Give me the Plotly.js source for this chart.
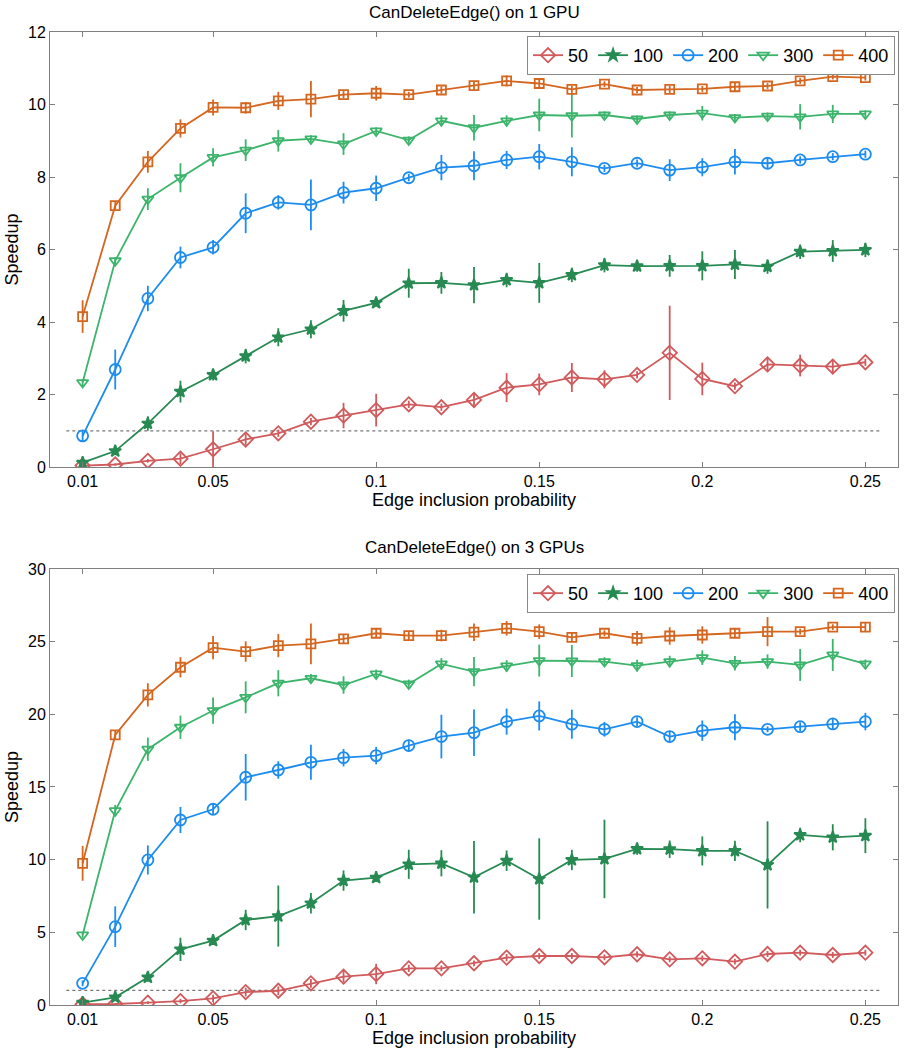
<!DOCTYPE html>
<html>
<head>
<meta charset="utf-8">
<script src="https://cdn.plot.ly/plotly-3.0.1.min.js"></script>
<style>html,body{margin:0;padding:0;background:#fff;}#chart{width:904px;height:1050px;}</style>
</head>
<body>
<div id="chart"></div>
<script>
// ---------- data ----------
const prob = [0.01,0.02,0.03,0.04,0.05,0.06,0.07,0.08,0.09,0.10,0.11,0.12,0.13,0.14,0.15,0.16,0.17,0.18,0.19,0.20,0.21,0.22,0.23,0.24,0.25];
const seriesNames = ['50','100','200','300','400'];

// 1 GPU
const gpu1_50  = [0.04,0.07,0.17,0.23,0.49,0.76,0.93,1.25,1.42,1.57,1.73,1.65,1.85,2.19,2.28,2.47,2.42,2.54,3.15,2.43,2.23,2.83,2.80,2.77,2.89];
const gpu1_50e = [0.03,0.03,0.05,0.15,0.50,0.15,0.10,0.10,0.35,0.45,0.10,0.10,0.20,0.40,0.30,0.40,0.25,0.10,1.30,0.45,0.10,0.20,0.30,0.20,0.10];
const gpu1_100  = [0.12,0.44,1.20,2.08,2.54,3.06,3.58,3.80,4.31,4.53,5.07,5.08,5.02,5.16,5.08,5.30,5.57,5.54,5.55,5.55,5.59,5.53,5.94,5.96,5.99];
const gpu1_100e = [0.05,0.08,0.20,0.30,0.15,0.20,0.25,0.25,0.30,0.10,0.40,0.30,0.50,0.20,0.55,0.20,0.20,0.15,0.30,0.40,0.40,0.20,0.20,0.30,0.20];
const gpu1_200  = [0.86,2.69,4.65,5.78,6.06,7.00,7.30,7.23,7.57,7.69,7.98,8.26,8.31,8.47,8.56,8.42,8.24,8.38,8.19,8.27,8.42,8.38,8.47,8.56,8.63];
const gpu1_200e = [0.15,0.55,0.35,0.30,0.20,0.55,0.20,0.70,0.30,0.35,0.10,0.35,0.40,0.25,0.35,0.40,0.10,0.10,0.30,0.25,0.35,0.15,0.10,0.10,0.10];
const gpu1_300  = [2.33,5.69,7.39,7.98,8.54,8.74,9.00,9.05,8.91,9.27,9.02,9.55,9.36,9.55,9.71,9.69,9.71,9.60,9.71,9.76,9.64,9.68,9.66,9.74,9.74];
const gpu1_300e = [0.10,0.10,0.30,0.40,0.25,0.30,0.30,0.10,0.30,0.10,0.10,0.15,0.35,0.15,0.45,0.60,0.10,0.10,0.10,0.20,0.10,0.10,0.35,0.25,0.10];
const gpu1_400  = [4.15,7.21,8.42,9.34,9.92,9.91,10.10,10.15,10.27,10.31,10.27,10.40,10.52,10.65,10.58,10.42,10.56,10.40,10.42,10.43,10.49,10.51,10.65,10.77,10.74];
const gpu1_400e = [0.45,0.10,0.30,0.25,0.22,0.16,0.25,0.50,0.10,0.20,0.08,0.10,0.12,0.15,0.10,0.10,0.08,0.08,0.10,0.08,0.12,0.08,0.08,0.08,0.08];

// 3 GPUs
const gpu3_50  = [0.05,0.07,0.16,0.27,0.46,0.89,0.98,1.49,1.95,2.13,2.52,2.52,2.87,3.26,3.37,3.37,3.28,3.49,3.14,3.21,2.98,3.51,3.60,3.44,3.60];
const gpu3_50e = [0.05,0.05,0.10,0.15,0.25,0.30,0.30,0.30,0.40,0.70,0.25,0.20,0.20,0.25,0.20,0.20,0.20,0.20,0.20,0.20,0.20,0.20,0.20,0.20,0.20];
const gpu3_100  = [0.16,0.53,1.90,3.83,4.43,5.85,6.12,7.00,8.56,8.76,9.68,9.75,8.79,9.93,8.67,9.98,10.05,10.74,10.72,10.60,10.60,9.64,11.70,11.54,11.65];
const gpu3_100e = [0.10,0.15,0.30,0.80,0.30,0.70,2.10,0.70,0.70,0.30,1.00,0.90,2.50,0.70,2.80,0.70,2.70,0.40,0.60,1.00,0.70,3.00,0.50,0.90,1.20];
const gpu3_200  = [1.49,5.39,9.98,12.73,13.47,15.67,16.17,16.70,17.02,17.16,17.85,18.47,18.74,19.50,19.89,19.32,18.97,19.50,18.47,18.88,19.11,18.97,19.15,19.34,19.50];
const gpu3_200e = [0.20,1.40,1.00,0.90,0.40,1.60,0.60,1.20,0.60,0.60,0.40,1.50,1.60,0.90,1.00,1.00,0.50,0.30,0.40,0.70,0.90,0.20,0.30,0.40,0.60];
const gpu3_300  = [4.82,13.37,17.60,19.11,20.26,21.17,22.14,22.48,22.02,22.78,22.09,23.47,22.94,23.33,23.70,23.67,23.63,23.35,23.63,23.90,23.51,23.63,23.40,24.09,23.47];
const gpu3_300e = [0.20,0.40,0.80,0.80,0.90,1.10,0.90,0.30,0.60,0.30,0.30,0.40,1.00,0.40,1.10,1.10,0.30,0.40,0.40,0.50,0.50,0.50,1.10,1.10,0.30];
const gpu3_400  = [9.75,18.58,21.34,23.24,24.59,24.32,24.73,24.85,25.19,25.58,25.42,25.42,25.65,25.92,25.69,25.30,25.58,25.23,25.39,25.46,25.58,25.69,25.69,26.00,26.00];
const gpu3_400e = [1.20,0.30,0.80,0.70,0.80,0.70,0.80,1.40,0.30,0.30,0.30,0.40,0.60,0.50,0.50,0.30,0.20,0.50,0.60,0.60,0.30,1.00,0.20,0.20,0.30];

const refLineX = [0.005, 0.255];
const refLineY = [1, 1];

const xTicks = [0.01, 0.05, 0.1, 0.15, 0.2, 0.25];
const xTickText = ['0.01','0.05','0.1','0.15','0.2','0.25'];
const yTicks1 = [0,2,4,6,8,10,12];
const yTicks3 = [0,5,10,15,20,25,30];

// ---------- styles ----------
const colors  = ['#d05a5c','#278a52','#1c8cf0','#3db46c','#d5661f'];
const symbols = ['diamond-open','star','circle-open','triangle-down-open','square-open'];
const msizes  = [11,9,11,10,9];

const gpu1 = [[gpu1_50,gpu1_50e],[gpu1_100,gpu1_100e],[gpu1_200,gpu1_200e],[gpu1_300,gpu1_300e],[gpu1_400,gpu1_400e]];
const gpu3 = [[gpu3_50,gpu3_50e],[gpu3_100,gpu3_100e],[gpu3_200,gpu3_200e],[gpu3_300,gpu3_300e],[gpu3_400,gpu3_400e]];

const traces = [];
function addRef(xa, ya) {
  traces.push({x: refLineX, y: refLineY, xaxis: xa, yaxis: ya, mode: 'lines',
    line: {color: '#777777', width: 1.3, dash: 'dot'}, showlegend: false, hoverinfo: 'skip'});
}
addRef('x','y');
addRef('x2','y2');
function addSet(set, xa, ya, leg) {
  set.forEach((s, i) => {
    traces.push({
      x: prob, y: s[0], xaxis: xa, yaxis: ya, legend: leg,
      name: seriesNames[i], mode: 'lines+markers',
      line: {color: colors[i], width: 1.8},
      marker: {symbol: symbols[i], size: msizes[i], color: colors[i], line: {color: colors[i], width: 1.8}},
      error_y: {type: 'data', array: s[1], visible: true, color: colors[i], thickness: 1.8, width: 0}
    });
  });
}
addSet(gpu1, 'x', 'y', 'legend');
addSet(gpu3, 'x2', 'y2', 'legend2');

const fam = 'Liberation Sans, Arial, sans-serif';
const font = {family: fam, size: 16, color: '#000'};
const titleFont = {family: fam, size: 18, color: '#000'};
function xAxis(anchor) {
  return {anchor: anchor, domain: [0,1], range: [0, 0.26], tickvals: xTicks, ticktext: xTickText,
    ticks: 'inside', ticklen: 5, tickcolor: '#7f7f7f', showline: true, linecolor: '#7f7f7f', linewidth: 1,
    mirror: 'ticks', showgrid: false, zeroline: false, tickfont: font,
    title: {text: 'Edge inclusion probability', font: titleFont, standoff: 4}};
}
function yAxis(anchor, dom, rng, tv) {
  return {anchor: anchor, domain: dom, range: rng, tickvals: tv,
    ticks: 'inside', ticklen: 5, tickcolor: '#7f7f7f', showline: true, linecolor: '#7f7f7f', linewidth: 1,
    mirror: 'ticks', showgrid: false, zeroline: false, tickfont: font,
    title: {text: 'Speedup', font: titleFont, standoff: 4}};
}
const legStyle = {orientation: 'h', xanchor: 'right', yanchor: 'top', bgcolor: '#fff',
  bordercolor: '#8a8a8a', borderwidth: 1, font: {family: fam, size: 18, color: '#000'}, itemwidth: 30, tracegroupgap: 0};

const layout = {
  width: 904, height: 1050,
  margin: {l: 50, r: 6, t: 32, b: 45},
  paper_bgcolor: '#fff', plot_bgcolor: '#fff',
  font: font,
  xaxis: xAxis('y'),
  yaxis: yAxis('x', [0.5529, 1], [0, 12], yTicks1),
  xaxis2: xAxis('y2'),
  yaxis2: yAxis('x2', [0, 0.4481], [0, 30], yTicks3),
  legend: Object.assign({x: 0.9965, y: 0.9959}, legStyle),
  legend2: Object.assign({x: 0.9965, y: 0.443}, legStyle),
  annotations: [
    {text: 'CanDeleteEdge() on 1 GPU', xref: 'paper', yref: 'paper', x: 0.5, y: 1, yshift: 20,
     xanchor: 'center', yanchor: 'middle', showarrow: false, font: {family: fam, size: 17, color: '#000'}},
    {text: 'CanDeleteEdge() on 3 GPUs', xref: 'paper', yref: 'paper', x: 0.5, y: 0.4481, yshift: 21,
     xanchor: 'center', yanchor: 'middle', showarrow: false, font: {family: fam, size: 17, color: '#000'}}
  ],
  showlegend: true
};

Plotly.newPlot('chart', traces, layout, {displayModeBar: false, staticPlot: true});
</script>
</body>
</html>
